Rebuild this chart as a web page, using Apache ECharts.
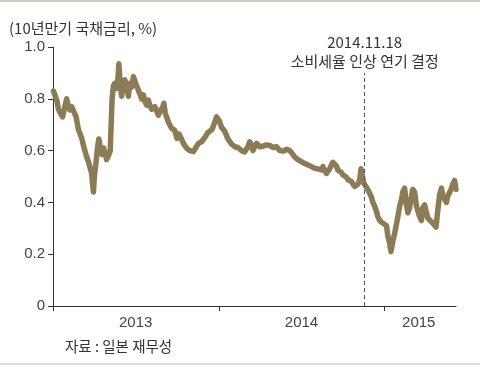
<!DOCTYPE html>
<html><head><meta charset="utf-8">
<script src="https://cdn.jsdelivr.net/npm/echarts@6/dist/echarts.min.js"></script>
<style>
html,body{margin:0;padding:0;background:#fff;}
#wrap{position:relative;width:480px;height:370px;overflow:hidden;background:#fff;}
#topbar{position:absolute;left:0;top:0;width:480px;height:2px;background:#cfcab9;}
#botbar{position:absolute;left:0;top:363px;width:480px;height:2px;background:#dedbd2;}
#chart{position:absolute;left:0;top:0;width:480px;height:370px;}
</style></head>
<body><div id="wrap"><div id="chart"></div><div id="topbar"></div><div id="botbar"></div></div>
<script>
const titleText = '(10년만기 국채금리, %)';
const sourceText = '자료 : 일본 재무성';
const eventDate = '2014-11-18';
const eventLabel = ['2014.11.18', '소비세율 인상 연기 결정'];
const yearTicks = ['2013-01-01', '2014-01-01', '2015-01-01'];
const yearLabelAt = ['2013-07-02', '2014-07-02', '2015-03-17'];
const yTicks = [0, 0.2, 0.4, 0.6, 0.8, 1.0];

const dates = [
'2013-01-02','2013-01-06','2013-01-10','2013-01-13','2013-01-17','2013-01-22','2013-01-26','2013-01-31',
'2013-02-04','2013-02-07','2013-02-11','2013-02-16','2013-02-21','2013-02-26',
'2013-03-01','2013-03-05','2013-03-09','2013-03-12','2013-03-16','2013-03-20','2013-03-23','2013-03-27','2013-03-29','2013-03-31',
'2013-04-02','2013-04-06','2013-04-09','2013-04-12','2013-04-16','2013-04-19','2013-04-22','2013-04-25','2013-04-29',
'2013-05-03','2013-05-07','2013-05-09','2013-05-11','2013-05-14','2013-05-17','2013-05-21','2013-05-24','2013-05-26','2013-05-29',
'2013-06-01','2013-06-05','2013-06-08','2013-06-12','2013-06-16','2013-06-19','2013-06-23','2013-06-27','2013-06-30',
'2013-07-04','2013-07-08','2013-07-11','2013-07-15','2013-07-19','2013-07-22','2013-07-26','2013-07-30',
'2013-08-02','2013-08-06','2013-08-10','2013-08-13','2013-08-17','2013-08-21','2013-08-24','2013-08-28','2013-08-31',
'2013-09-02','2013-09-05','2013-09-09','2013-09-12','2013-09-15','2013-09-19','2013-09-23','2013-09-26',
'2013-10-01','2013-10-05','2013-10-08','2013-10-12','2013-10-15','2013-10-18','2013-10-22','2013-10-26','2013-10-29',
'2013-11-02','2013-11-06','2013-11-09','2013-11-13','2013-11-17','2013-11-20','2013-11-24','2013-11-28',
'2013-12-01','2013-12-05','2013-12-08','2013-12-12','2013-12-16','2013-12-19','2013-12-23','2013-12-27','2013-12-30',
'2014-01-02','2014-01-07','2014-01-10','2014-01-14','2014-01-18','2014-01-21','2014-01-25','2014-01-29',
'2014-02-01','2014-02-05','2014-02-09','2014-02-12','2014-02-16','2014-02-20','2014-02-23','2014-02-27',
'2014-03-03','2014-03-06','2014-03-10','2014-03-14','2014-03-17','2014-03-21','2014-03-25','2014-03-28',
'2014-04-01','2014-04-05','2014-04-08','2014-04-12','2014-04-16','2014-04-19','2014-04-23','2014-04-27','2014-04-30',
'2014-05-04','2014-05-08','2014-05-12','2014-05-15','2014-05-19','2014-05-23','2014-05-26','2014-05-30',
'2014-06-03','2014-06-06','2014-06-10','2014-06-14','2014-06-17','2014-06-21','2014-06-25','2014-06-28',
'2014-07-02','2014-07-05','2014-07-09','2014-07-13','2014-07-16','2014-07-20','2014-07-24','2014-07-27','2014-07-31',
'2014-08-04','2014-08-07','2014-08-11','2014-08-15','2014-08-18','2014-08-20','2014-08-23','2014-08-26','2014-08-29',
'2014-09-02','2014-09-06','2014-09-09','2014-09-13','2014-09-17','2014-09-20','2014-09-24','2014-09-28',
'2014-10-01','2014-10-05','2014-10-09','2014-10-12','2014-10-16','2014-10-20','2014-10-23','2014-10-27','2014-10-31',
'2014-11-03','2014-11-07','2014-11-10','2014-11-13','2014-11-16','2014-11-19','2014-11-23','2014-11-26','2014-11-29',
'2014-12-03','2014-12-06','2014-12-10','2014-12-14','2014-12-17','2014-12-21','2014-12-25','2014-12-28',
'2015-01-01','2015-01-05','2015-01-08','2015-01-11','2015-01-15','2015-01-19','2015-01-23','2015-01-27','2015-01-30',
'2015-02-03','2015-02-07','2015-02-10','2015-02-14','2015-02-17','2015-02-21','2015-02-25','2015-02-28',
'2015-03-04','2015-03-08','2015-03-12','2015-03-15','2015-03-19','2015-03-23','2015-03-26','2015-03-30',
'2015-04-03','2015-04-06','2015-04-10','2015-04-14','2015-04-17','2015-04-21','2015-04-24','2015-04-28',
'2015-05-02','2015-05-06','2015-05-09','2015-05-13','2015-05-17','2015-05-20','2015-05-24','2015-05-27','2015-05-31',
'2015-06-04','2015-06-07'
];
const yields = [
0.83,0.83,0.79,0.76,0.745,0.73,0.76,0.80,
0.77,0.757,0.77,0.75,0.73,0.68,
0.668,0.649,0.62,0.60,0.576,0.557,0.538,0.512,0.475,0.44,
0.50,0.56,0.61,0.645,0.60,0.585,0.61,0.595,0.565,
0.58,0.60,0.70,0.80,0.85,0.86,0.84,0.88,0.935,0.86,
0.81,0.86,0.873,0.84,0.81,0.86,0.845,0.885,0.89,
0.85,0.847,0.82,0.80,0.815,0.79,0.776,0.795,
0.775,0.76,0.757,0.77,0.763,0.737,0.75,0.757,0.77,
0.783,0.745,0.725,0.71,0.70,0.686,0.69,0.678,
0.647,0.665,0.655,0.64,0.628,0.625,0.61,0.605,0.60,
0.598,0.596,0.605,0.61,0.628,0.625,0.634,0.64,
0.65,0.655,0.67,0.668,0.68,0.69,0.71,0.73,0.725,
0.715,0.69,0.69,0.675,0.68,0.645,0.635,0.625,
0.62,0.615,0.61,0.612,0.605,0.60,0.597,0.595,
0.59,0.615,0.634,0.62,0.60,0.615,0.628,0.634,
0.615,0.61,0.617,0.62,0.622,0.628,0.62,0.615,0.612,
0.61,0.615,0.612,0.60,0.598,0.598,0.596,0.605,
0.61,0.60,0.596,0.583,0.575,0.57,0.564,0.56,
0.557,0.552,0.55,0.544,0.545,0.54,0.538,0.535,0.532,
0.53,0.53,0.528,0.525,0.538,0.544,0.52,0.512,0.52,
0.53,0.545,0.555,0.56,0.54,0.525,0.522,0.515,
0.506,0.51,0.497,0.488,0.49,0.48,0.472,0.462,0.455,
0.47,0.485,0.53,0.50,0.475,0.47,0.455,0.45,0.435,
0.42,0.40,0.385,0.365,0.345,0.33,0.328,0.32,
0.325,0.31,0.27,0.25,0.21,0.25,0.28,0.285,0.345,
0.385,0.41,0.44,0.455,0.40,0.36,0.38,0.415,
0.45,0.44,0.385,0.39,0.345,0.33,0.38,0.39,
0.36,0.34,0.332,0.325,0.32,0.315,0.305,0.37,
0.43,0.455,0.425,0.43,0.40,0.425,0.42,0.45,0.47,
0.485,0.45
];

const ts = s => +new Date(s + 'T00:00:00Z');
const seriesData = dates.map((d, i) => [ts(d), yields[i]]);
const txt = '#444';
const fontFam = '"Liberation Sans","Noto Sans CJK KR",sans-serif';
const krFont = '"Noto Sans CJK KR","Liberation Sans",sans-serif';

const chart = echarts.init(document.getElementById('chart'), null, {renderer: 'canvas'});
chart.setOption({
  animation: false,
  backgroundColor: '#fff',
  title: [
    {text: titleText, left: 4, top: 16, textStyle: {fontSize: 15, fontWeight: 'normal', color: '#333', fontFamily: krFont}},
    {text: sourceText, left: 60, top: 334, textStyle: {fontSize: 14.5, fontWeight: 'normal', color: '#333', fontFamily: krFont}}
  ],
  grid: {left: 53, right: 24, top: 47, bottom: 64, containLabel: false},
  xAxis: {
    type: 'value',
    min: ts('2013-01-01'),
    max: ts('2015-06-07'),
    axisLine: {show: true, lineStyle: {color: '#333', width: 1}},
    axisTick: {show: true, length: 5, lineStyle: {color: '#333'}, customValues: yearTicks.map(ts)},
    axisLabel: {
      customValues: yearLabelAt.map(ts),
      formatter: v => String(new Date(v).getUTCFullYear()),
      color: txt, fontSize: 15, fontFamily: fontFam, margin: 9
    },
    splitLine: {show: false}
  },
  yAxis: {
    type: 'value', min: 0, max: 1, interval: 0.2,
    axisLine: {show: true, lineStyle: {color: '#333', width: 1}},
    axisTick: {show: true, length: 5, lineStyle: {color: '#333'}},
    axisLabel: {formatter: v => v === 0 ? '0' : v.toFixed(1), color: txt, fontSize: 15, fontFamily: fontFam, margin: 8},
    splitLine: {show: false}
  },
  series: [{
    type: 'line',
    data: seriesData,
    showSymbol: false,
    symbol: 'none',
    lineStyle: {color: '#8c7c56', width: 5.5, join: 'round', cap: 'round'},
    markLine: {
      silent: true,
      symbol: 'none',
      lineStyle: {color: '#555', type: [4, 3], width: 1},
      data: [[
        {coord: [ts(eventDate), 0]},
        {coord: [ts(eventDate), 0.9]}
      ]],
      label: {
        show: true, position: 'end',
        formatter: eventLabel.join('\n'),
        color: '#333', fontSize: 15, lineHeight: 19, fontFamily: krFont, distance: 2
      }
    }
  }]
});
</script></body></html>
